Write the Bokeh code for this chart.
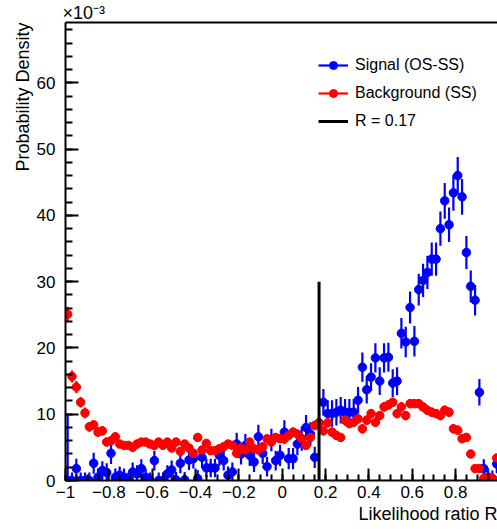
import numpy as np
from bokeh.plotting import figure
from bokeh.models import (ColumnDataSource, Range1d, LinearAxis, FixedTicker,
                          Title, Legend, LegendItem)
from bokeh.embed import file_html
from bokeh.resources import INLINE

# ---------------- data (values in units of 1e-3) ----------------
n_bins = 100
r_low, r_high = -1.0, 1.0

signal = [0.0, 0.0, 1.8, 0.0, 0.0, 0.0, 2.6, 0.5, 1.5, 1.2,
          4.1, 0.5, 0.8, 0.5, 0.0, 1.3, 1.0, 1.8, 0.5, 0.0,
          3.0, 0.0, 0.0, 1.0, 1.6, 0.1, 2.6, 0.1, 3.1, 3.3,
          0.3, 3.5, 1.9, 1.9, 1.9, 3.8, 3.0, 0.8, 1.3, 5.5,
          4.0, 5.3, 3.8, 2.8, 6.6, 4.1, 2.1, 6.1, 3.0, 3.8,
          7.3, 3.3, 3.3, 5.5, 6.3, 8.0, 7.0, 3.5, 8.7, 11.8,
          10.1, 10.1, 10.3, 10.6, 10.3, 10.3, 10.3, 12.1, 17.1, 13.7,
          15.6, 18.5, 15.0, 18.5, 18.6, 14.7, 15.0, 22.2, 20.9, 26.1,
          21.0, 28.8, 30.2, 31.4, 33.4, 33.4, 38.0, 42.2, 38.6, 43.4,
          46.0, 42.8, 34.4, 29.3, 27.2, 13.3, 1.8, 0.5, 0.3, 2.5]

signal_err = [9.8, 1.2, 1.5, 1.2, 1.2, 1.2, 1.6, 1.3, 1.4, 1.4,
              1.6, 1.3, 1.3, 1.3, 1.2, 1.4, 1.3, 1.4, 1.3, 1.2,
              1.5, 1.2, 1.2, 1.3, 1.4, 1.2, 1.5, 1.2, 1.5, 1.5,
              1.3, 1.6, 1.4, 1.4, 1.4, 1.6, 1.5, 1.3, 1.4, 1.7,
              1.6, 1.7, 1.6, 1.5, 1.8, 1.6, 1.5, 1.7, 1.5, 1.6,
              1.8, 1.6, 1.6, 1.7, 1.8, 1.9, 1.8, 1.6, 1.9, 2.0,
              2.0, 2.0, 2.0, 2.0, 2.0, 2.0, 2.0, 2.0, 2.2, 2.1,
              2.1, 2.2, 2.1, 2.2, 2.2, 2.1, 2.1, 2.3, 2.3, 2.4,
              2.3, 2.4, 2.5, 2.5, 2.5, 2.5, 2.6, 2.7, 2.6, 2.7,
              2.8, 2.7, 2.5, 2.4, 2.3, 2.0, 1.4, 1.3, 1.2, 1.4]

background = [25.1, 15.7, 14.1, 11.8, 10.2, 8.1, 8.4, 7.3, 7.5, 5.8,
              6.0, 6.6, 5.5, 5.3, 5.3, 5.0, 5.5, 5.8, 5.8, 5.5,
              5.3, 5.8, 5.3, 5.8, 4.9, 5.8, 4.4, 5.5, 4.9, 4.1,
              6.5, 4.6, 5.6, 4.5, 4.5, 4.8, 5.1, 5.5, 5.3, 4.1,
              4.9, 4.6, 5.8, 4.8, 4.6, 5.1, 6.3, 5.8, 6.5, 6.3,
              6.3, 6.8, 7.3, 7.0, 6.3, 5.3, 6.5, 8.3, 8.6, 7.5,
              8.7, 7.3, 6.8, 6.5, 9.1, 8.6, 8.8, 9.3, 7.8, 9.1,
              10.1, 8.8, 9.8, 11.1, 11.4, 11.8, 10.1, 11.1, 9.8, 11.6,
              11.6, 11.6, 11.1, 10.6, 10.3, 10.1, 9.8, 10.6, 10.3, 7.8,
              7.6, 6.3, 6.5, 4.0, 1.8, 1.8, 0.3, 0.3, 0.3, 3.4]

background_err = [1.1, 0.9, 0.9, 0.8, 0.8, 0.7, 0.7, 0.7, 0.7, 0.6,
                  0.6, 0.6, 0.6, 0.6, 0.6, 0.6, 0.6, 0.6, 0.6, 0.6,
                  0.6, 0.6, 0.6, 0.6, 0.6, 0.6, 0.6, 0.6, 0.6, 0.6,
                  0.6, 0.6, 0.6, 0.6, 0.6, 0.6, 0.6, 0.6, 0.6, 0.6,
                  0.6, 0.6, 0.6, 0.6, 0.6, 0.6, 0.6, 0.6, 0.6, 0.6,
                  0.6, 0.6, 0.7, 0.7, 0.6, 0.6, 0.6, 0.7, 0.7, 0.7,
                  0.7, 0.7, 0.7, 0.6, 0.7, 0.7, 0.7, 0.7, 0.7, 0.7,
                  0.7, 0.7, 0.7, 0.7, 0.7, 0.7, 0.7, 0.7, 0.7, 0.7,
                  0.7, 0.7, 0.7, 0.7, 0.7, 0.7, 0.7, 0.7, 0.7, 0.7,
                  0.7, 0.6, 0.6, 0.5, 0.4, 0.4, 0.3, 0.3, 0.3, 0.5]

r_cut = [0.17]
r_cut_height = [30.0]

x_tick_values = [-1.0, -0.8, -0.6, -0.4, -0.2, 0.0, 0.2, 0.4, 0.6, 0.8]
x_tick_labels = ["\u22121", "\u22120.8", "\u22120.6", "\u22120.4", "\u22120.2",
                 "0", "0.2", "0.4", "0.6", "0.8"]
y_tick_values = [0, 10, 20, 30, 40, 50, 60]
y_tick_labels = ["0", "10", "20", "30", "40", "50", "60"]

x_title = "Likelihood ratio R"
y_title = "Probability Density"
y_multiplier = "\u00d710\u207b\u00b3"

# ---------------- geometry ----------------
edges = np.linspace(r_low, r_high, n_bins + 1)
centers = 0.5 * (edges[:-1] + edges[1:])

FONT = "Liberation Sans"
BLUE = "#0000ff"
RED = "#ff0000"

sig = np.array(signal)
sig_e = np.array(signal_err)
bkg = np.array(background)
bkg_e = np.array(background_err)

src_s = ColumnDataSource(dict(x=centers, y=sig, lo=sig - sig_e, hi=sig + sig_e))
src_b = ColumnDataSource(dict(x=centers, y=bkg, lo=bkg - bkg_e, hi=bkg + bkg_e))
src_c = ColumnDataSource(dict(x=r_cut, y0=[0.0], y1=r_cut_height))

p = figure(width=497, height=529, output_backend="svg", toolbar_location=None,
           x_range=Range1d(-1.0, 0.9935), y_range=Range1d(0.0, 69.1),
           x_axis_type=None, y_axis_type=None, title=None,
           min_border_left=65, min_border_right=0, min_border_top=22,
           min_border_bottom=49)
p.outline_line_color = None
p.background_fill_color = "white"
p.border_fill_color = "white"

def style_axis(ax, maj_in, min_in):
    ax.axis_line_width = 2
    ax.axis_line_color = "black"
    ax.major_tick_in = maj_in
    ax.major_tick_out = 0
    ax.minor_tick_in = min_in
    ax.minor_tick_out = 0
    ax.major_tick_line_width = 2
    ax.minor_tick_line_width = 2
    ax.major_label_text_font = FONT
    ax.major_label_text_font_size = "17px"
    ax.major_label_text_color = "black"

x_minor = list(np.round(np.arange(-1.0, 1.0001, 0.05), 3))
y_minor = list(range(0, 70, 2))

top_axis = LinearAxis(ticker=FixedTicker(ticks=[]))
top_axis.axis_line_width = 2
top_axis.major_tick_in = 0
top_axis.major_tick_out = 0
top_axis.minor_tick_in = 0
top_axis.minor_tick_out = 0
top_axis.major_label_text_font_size = "0px"
top_axis.major_label_standoff = 0
p.add_layout(top_axis, "above")

mult = Title(text=y_multiplier, align="left", text_font=FONT,
             text_font_size="18px", text_font_style="normal",
             text_color="black", standoff=0, offset=-3)
p.add_layout(mult, "above")

xaxis = LinearAxis(ticker=FixedTicker(ticks=x_tick_values, minor_ticks=x_minor))
style_axis(xaxis, 12, 6)
xaxis.major_label_overrides = {v: l for v, l in zip(x_tick_values, x_tick_labels)}
xaxis.major_label_standoff = 5
p.add_layout(xaxis, "below")

xt = Title(text=x_title, align="right", text_font=FONT, text_font_size="18px",
           text_font_style="normal", text_color="black", standoff=2, offset=0)
p.add_layout(xt, "below")

yaxis = LinearAxis(ticker=FixedTicker(ticks=y_tick_values, minor_ticks=y_minor))
style_axis(yaxis, 13, 7)
yaxis.major_label_overrides = {v: l for v, l in zip(y_tick_values, y_tick_labels)}
yaxis.major_label_standoff = 10
yaxis.major_label_orientation = "horizontal"
p.add_layout(yaxis, "left")

yt = Title(text=y_title, align="right", text_font=FONT, text_font_size="18px",
           text_font_style="normal", text_color="black", standoff=2, offset=0)
p.add_layout(yt, "left")

# ---------------- glyphs ----------------
s_err = p.segment(x0="x", y0="lo", x1="x", y1="hi", source=src_s,
                  line_color=BLUE, line_width=2.2)
s_pts = p.scatter("x", "y", source=src_s, size=8.5, fill_color=BLUE,
                  line_color=BLUE, marker="circle")
b_err = p.segment(x0="x", y0="lo", x1="x", y1="hi", source=src_b,
                  line_color=RED, line_width=2.2)
b_pts = p.scatter("x", "y", source=src_b, size=8.5, fill_color=RED,
                  line_color=RED, marker="circle")
cut = p.segment(x0="x", y0="y0", x1="x", y1="y1", source=src_c,
                line_color="black", line_width=3)

legend = Legend(items=[
    LegendItem(label="Signal (OS-SS)", renderers=[s_err, s_pts]),
    LegendItem(label="Background (SS)", renderers=[b_err, b_pts]),
    LegendItem(label="R = 0.17", renderers=[cut]),
], location=(253, 349))
legend.label_text_font = FONT
legend.label_text_font_size = "16px"
legend.label_text_color = "black"
legend.glyph_width = 30
legend.glyph_height = 20
legend.label_height = 20
legend.spacing = 8
legend.padding = 0
legend.margin = 0
legend.label_standoff = 7
legend.background_fill_alpha = 0
legend.border_line_alpha = 0
p.add_layout(legend, "center")

open("out.html", "w").write(file_html(p, INLINE))
